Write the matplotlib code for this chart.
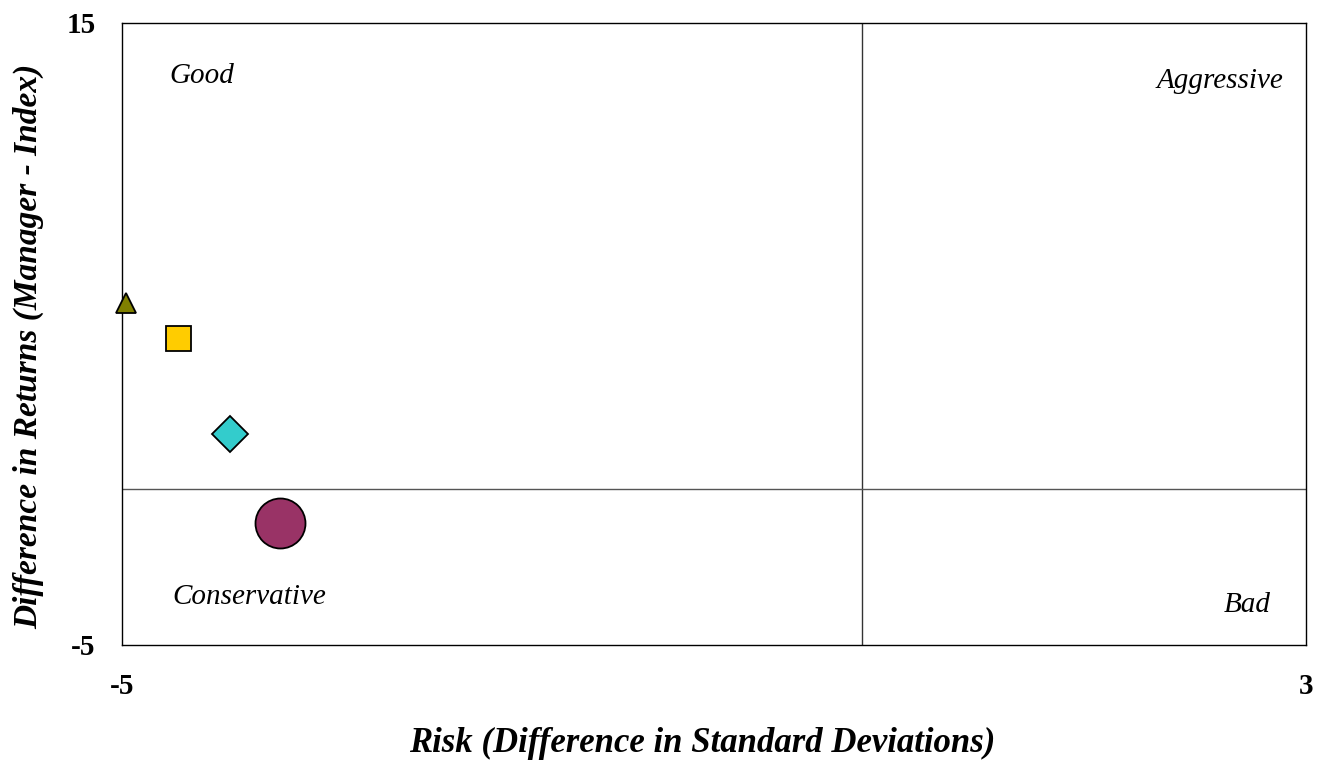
import matplotlib
matplotlib.use('Agg')
import matplotlib.pyplot as plt

# Données (risque, rendement) pour chaque gestionnaire
risk = [-4.97, -4.62, -4.27, -3.93]
returns = [6.0, 4.87, 1.78, -1.08]
markers = ['^', 's', 'D', 'o']
colors = ['#808000', '#FFCC00', '#33CCCC', '#993366']
sizes = [14, 18, 18, 36]

# Libellés des quadrants
quad_labels = ['Good', 'Aggressive', 'Conservative', 'Bad']

plt.rcParams['font.family'] = ['Liberation Serif', 'DejaVu Serif']

fig = plt.figure(figsize=(13.18, 7.64), dpi=100)
ax = fig.add_axes([0.0926, 0.1558, 0.8983, 0.8141])

ax.set_xlim(-5, 3)
ax.set_ylim(-5, 15)

# Lignes des quadrants
ax.axvline(0, color='#333333', lw=1, zorder=1)
ax.axhline(0, color='#555555', lw=1, zorder=1)

for x, y, m, c, s in zip(risk, returns, markers, colors, sizes):
    ax.plot(x, y, marker=m, markersize=s, markerfacecolor=c,
            markeredgecolor='black', markeredgewidth=1.3, linestyle='none',
            clip_on=False, zorder=3)

ax.text(-4.68, 13.29, quad_labels[0], fontsize=21, style='italic', ha='left', va='center')
ax.text(2.85, 13.14, quad_labels[1], fontsize=21, style='italic', ha='right', va='center')
ax.text(-4.66, -3.45, quad_labels[2], fontsize=21, style='italic', ha='left', va='center')
ax.text(2.76, -3.71, quad_labels[3], fontsize=21, style='italic', ha='right', va='center')

ax.set_xticks([-5, 3])
ax.set_yticks([-5, 15])
ax.set_xticklabels(['-5', '3'], fontsize=21, fontweight='bold')
ax.set_yticklabels(['-5', '15'], fontsize=21, fontweight='bold')
ax.tick_params(axis='both', length=0)
ax.tick_params(axis='x', pad=20)
ax.tick_params(axis='y', pad=19)

ax.set_xlabel('Risk (Difference in Standard Deviations)', fontsize=25,
              fontweight='bold', style='italic')
ax.set_ylabel('Difference in Returns (Manager - Index)', fontsize=24,
              fontweight='bold', style='italic')
ax.xaxis.set_label_coords(0.49, -0.132)
ax.yaxis.set_label_coords(-0.066, 0.48)

for sp in ax.spines.values():
    sp.set_linewidth(1)
    sp.set_color('black')

fig.savefig('out.png', dpi=100)
